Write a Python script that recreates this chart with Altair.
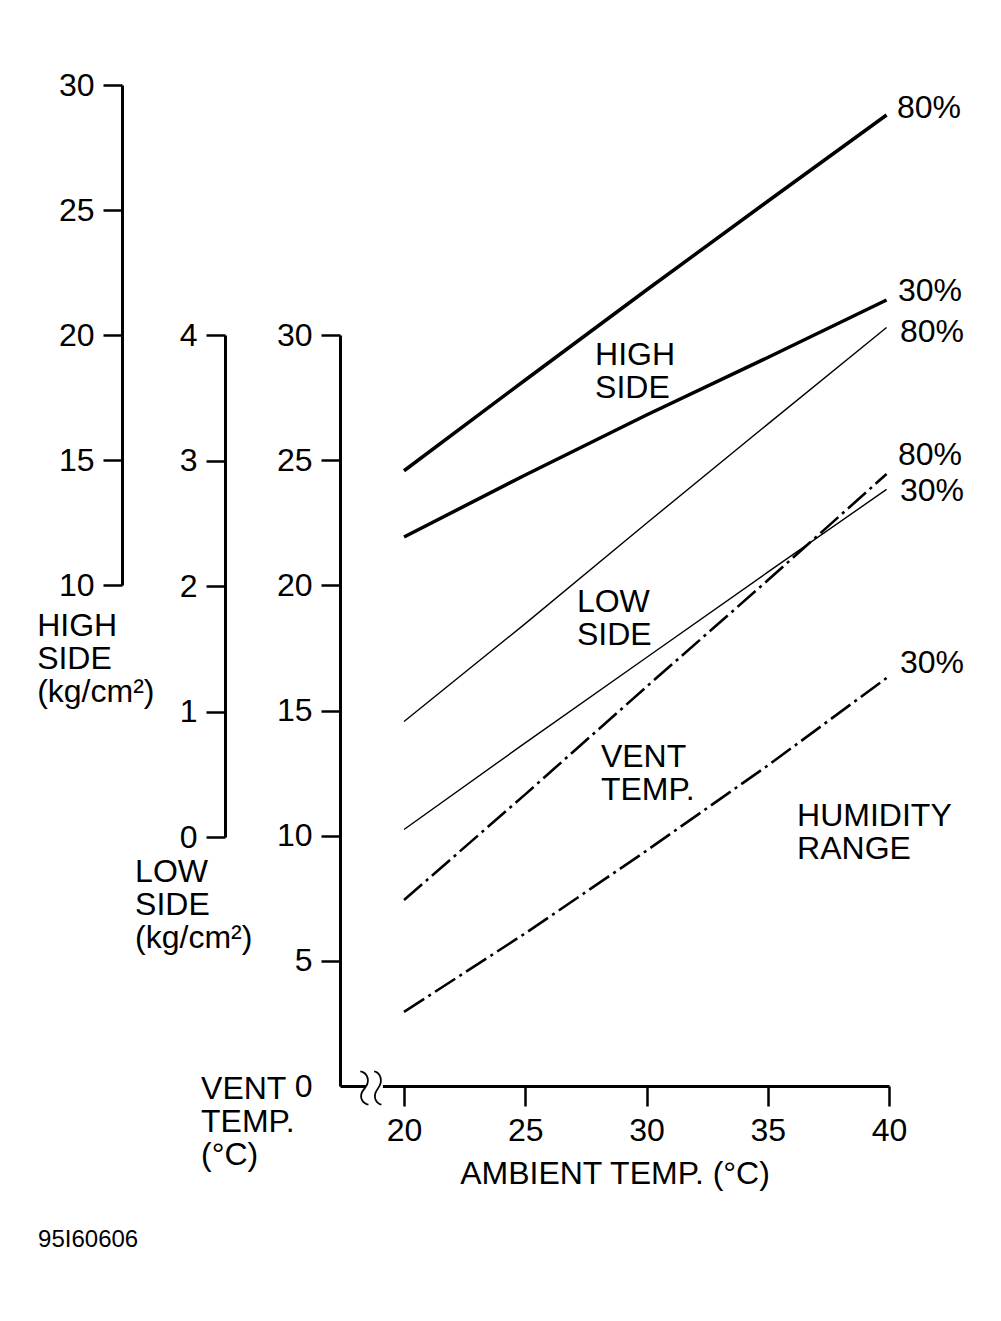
import altair as alt
import pandas as pd

# ---------------- data ----------------
AMBIENT = [20, 25, 30, 35, 39.9]            # ambient temperature (°C)
HIGH_80 = [14.57, 18.2, 21.8, 25.35, 28.8]   # high side kg/cm2, 80 % humidity
HIGH_30 = [11.92, 14.4, 16.8, 19.1, 21.4]    # high side kg/cm2, 30 % humidity
LOW_80 = [0.92, 1.70, 2.50, 3.29, 4.06]      # low side kg/cm2, 80 %
LOW_30 = [0.06, 0.75, 1.43, 2.11, 2.77]      # low side kg/cm2, 30 %
VENT_80 = [7.43, 11.65, 15.95, 20.2, 24.45]  # vent temp °C, 80 %
VENT_30 = [2.96, 6.1, 9.4, 12.8, 16.3]       # vent temp °C, 30 %

HIGH_TICKS = [10, 15, 20, 25, 30]
LOW_TICKS = [0, 1, 2, 3, 4]
VENT_TICKS = [0, 5, 10, 15, 20, 25, 30]
AMBIENT_TICKS = [20, 25, 30, 35, 40]

# end-of-line humidity labels (ambient, value in own units)
HIGH_LABEL_TEXT = ["80%", "30%"]
HIGH_LABEL_A = [40.33, 40.37]
HIGH_LABEL_V = [29.07, 21.76]
LOW_LABEL_TEXT = ["80%", "30%"]
LOW_LABEL_A = [40.45, 40.45]
LOW_LABEL_V = [4.02, 2.76]
VENT_LABEL_TEXT = ["80%", "30%"]
VENT_LABEL_A = [40.37, 40.45]
VENT_LABEL_V = [25.21, 16.90]

# annotations (ambient, vent-temp units)
NOTE_TEXT = ["HIGH\nSIDE\n(kg/cm²)", "LOW\nSIDE\n(kg/cm²)", "VENT\nTEMP.\n(°C)",
             "HIGH\nSIDE", "LOW\nSIDE", "VENT\nTEMP.", "HUMIDITY\nRANGE"]
NOTE_A = [4.87, 8.91, 11.63, 27.88, 27.13, 28.12, 36.21]
NOTE_V = [17.98, 8.15, -0.52, 28.80, 18.93, 12.74, 10.39]

CODE_TEXT = ["95I60606"]
CODE_A = [4.91]
CODE_V = [-6.43]

BREAK_A = [18.43, 19.13]
BREAK_V = [-0.3, 0.3]
BREAK_MARK_A = [18.66]
BREAK_MARK_V = [-0.08]

FONT = "Liberation Sans"
FS = 32

# ---------------- scales / axes ----------------
xscale = alt.Scale(domain=[17.36, 40], nice=False, zero=False)
xaxis = alt.Axis(values=AMBIENT_TICKS, title="AMBIENT TEMP. (°C)", orient="bottom",
                 tickSize=20, tickWidth=2.5, domainWidth=3, labelPadding=9,
                 labelFontSize=FS, labelFont=FONT, labelFlush=False, labelOverlap=False,
                 titleFont=FONT, titleFontSize=FS, titleFontWeight="normal",
                 titlePadding=12, grid=False, domainColor="black", tickColor="black",
                 labelColor="black", titleColor="black")


def xenc():
    return alt.X("a:Q", scale=xscale, axis=xaxis)


def yaxis(values, offset, hide_zero=False):
    kw = dict(orient="left", offset=offset, values=values, title=None, tickSize=19,
              tickWidth=2.5, domainWidth=3, labelPadding=9, labelFontSize=FS,
              labelFont=FONT, labelOverlap=False, grid=False, domainColor="black",
              tickColor="black", labelColor="black")
    if hide_zero:
        kw["tickOpacity"] = {"condition": {"test": "datum.value === 0", "value": 0}, "value": 1}
    return alt.Axis(**kw)


high_scale = alt.Scale(domain=[10, 30], range=[500, 0], nice=False, zero=False)
low_scale = alt.Scale(domain=[0, 4], range=[752, 250], nice=False, zero=False)
vent_scale = alt.Scale(domain=[0, 30], range=[1001, 250], nice=False, zero=False)

high_ax = yaxis(HIGH_TICKS, 218)
low_ax = yaxis(LOW_TICKS, 115)
vent_ax = yaxis(VENT_TICKS, 0, hide_zero=True)

# ---------------- data frames ----------------
n = len(AMBIENT)
high_df = pd.DataFrame({"a": AMBIENT * 2, "v": HIGH_80 + HIGH_30, "s": ["80%"] * n + ["30%"] * n})
low_df = pd.DataFrame({"a": AMBIENT * 2, "v": LOW_80 + LOW_30, "s": ["80%"] * n + ["30%"] * n})
vent_df = pd.DataFrame({"a": AMBIENT * 2, "v": VENT_80 + VENT_30, "s": ["80%"] * n + ["30%"] * n})

high_lab = pd.DataFrame({"a": HIGH_LABEL_A, "v": HIGH_LABEL_V, "t": HIGH_LABEL_TEXT})
low_lab = pd.DataFrame({"a": LOW_LABEL_A, "v": LOW_LABEL_V, "t": LOW_LABEL_TEXT})
vent_lab = pd.DataFrame({"a": VENT_LABEL_A, "v": VENT_LABEL_V, "t": VENT_LABEL_TEXT})

notes = pd.DataFrame({"a": NOTE_A, "v": NOTE_V, "t": NOTE_TEXT})
code = pd.DataFrame({"a": CODE_A, "v": CODE_V, "t": CODE_TEXT})
brk = pd.DataFrame({"a": [BREAK_A[0]], "a2": [BREAK_A[1]], "v": [BREAK_V[0]], "v2": [BREAK_V[1]]})
brk_marks = pd.DataFrame({"a": BREAK_MARK_A, "v": BREAK_MARK_V, "t": ["≈"]})

label_mark = dict(align="left", baseline="middle", fontSize=FS, font=FONT, color="black")

# ---------------- layers ----------------
high_layer = alt.layer(
    alt.Chart(high_df).mark_line(color="black", strokeWidth=3.5).encode(
        x=xenc(), y=alt.Y("v:Q", scale=high_scale, axis=high_ax), detail="s:N"),
    alt.Chart(high_lab).mark_text(**label_mark).encode(
        x=xenc(), y=alt.Y("v:Q", scale=high_scale, axis=high_ax), text="t:N"),
)

low_layer = alt.layer(
    alt.Chart(low_df).mark_line(color="black", strokeWidth=1.4).encode(
        x=xenc(), y=alt.Y("v:Q", scale=low_scale, axis=low_ax), detail="s:N"),
    alt.Chart(low_lab).mark_text(**label_mark).encode(
        x=xenc(), y=alt.Y("v:Q", scale=low_scale, axis=low_ax), text="t:N"),
)

vy = lambda: alt.Y("v:Q", scale=vent_scale, axis=vent_ax)

vent_layer = alt.layer(
    alt.Chart(vent_df).mark_line(color="black", strokeWidth=2.6, strokeDash=[24, 5, 3, 5]).encode(
        x=xenc(), y=vy(), detail="s:N"),
    alt.Chart(vent_lab).mark_text(**label_mark).encode(x=xenc(), y=vy(), text="t:N"),
    alt.Chart(notes).mark_text(align="left", baseline="alphabetic", fontSize=FS, font=FONT,
                               color="black", lineBreak="\n", lineHeight=33).encode(
        x=xenc(), y=vy(), text="t:N"),
    alt.Chart(code).mark_text(align="left", baseline="alphabetic", fontSize=24, font=FONT,
                              color="black").encode(x=xenc(), y=vy(), text="t:N"),
    alt.Chart(brk).mark_rect(color="white").encode(
        x=xenc(), x2="a2:Q", y=vy(), y2="v2:Q"),
    alt.Chart(brk_marks).mark_text(align="center", baseline="middle", fontSize=78, angle=90,
                                   font="Inter", fontWeight=100, color="black").encode(
        x=xenc(), y=vy(), text="t:N"),
)

chart = alt.layer(high_layer, low_layer, vent_layer).resolve_scale(y="independent").properties(
    width=549, height=1001,
    padding={"left": 332, "top": 77, "right": 100, "bottom": 220},
    autosize=alt.AutoSizeParams(type="none"),
    background="white",
).configure_view(strokeWidth=0)

chart.save("out.html", embed_options={"renderer": "svg", "actions": False})
